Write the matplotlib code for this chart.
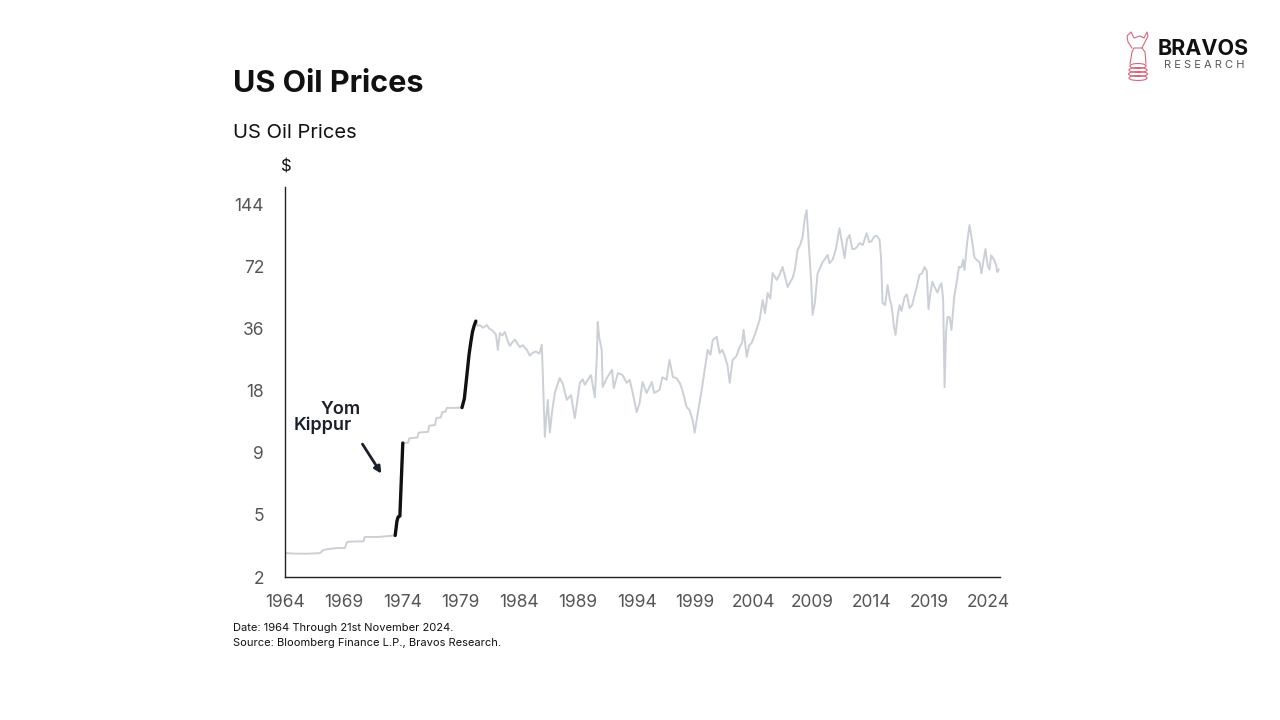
import matplotlib.pyplot as plt
from matplotlib.patches import Ellipse
import numpy as np

plt.rcParams['font.family'] = ['Inter', 'DejaVu Sans']

# monthly-ish WTI prices (decimal year, $)
years = [1964.0, 1965.0, 1966.0, 1967.0, 1967.2, 1967.3, 1967.6, 1968.5, 1969.1, 1969.3,
         1970.0, 1970.7, 1970.8, 1972.0, 1973.0, 1973.4,
         1973.55, 1973.65, 1973.8, 1974.05,
         1974.5, 1974.6, 1975.3, 1975.4, 1976.2, 1976.3, 1976.8, 1976.9, 1977.3, 1977.4, 1977.7, 1977.8, 1978.5, 1979.1,
         1979.3, 1979.5, 1979.7, 1979.85, 1980.0, 1980.15, 1980.28,
         1980.45, 1980.62, 1980.9, 1981.22, 1981.45, 1981.65, 1982.0, 1982.16, 1982.33, 1982.55, 1982.76,
         1983.0, 1983.18, 1983.4, 1983.61, 1984.03, 1984.3, 1984.63, 1984.89, 1985.1, 1985.4, 1985.7, 1985.91,
         1986.17, 1986.3, 1986.42, 1986.59, 1986.8, 1987.02, 1987.2, 1987.44, 1987.7, 1988.04, 1988.4, 1988.72,
         1988.9, 1989.15, 1989.4, 1989.58, 1989.83, 1990.1, 1990.43, 1990.6, 1990.68, 1990.8, 1991.02, 1991.1,
         1991.45, 1991.9, 1992.05, 1992.4, 1992.8, 1993.15, 1993.4, 1993.65, 1994.0, 1994.25, 1994.5, 1994.85,
         1995.3, 1995.5, 1995.95, 1996.2, 1996.55, 1996.8, 1997.1, 1997.4, 1997.67, 1997.9, 1998.27, 1998.5,
         1998.78, 1998.95, 1999.21, 1999.55, 1999.81, 2000.06, 2000.3, 2000.49, 2000.83, 2001.08, 2001.3,
         2001.51, 2001.75, 2001.94, 2002.19, 2002.5, 2002.79, 2003.0, 2003.13, 2003.39, 2003.6, 2003.81, 2004.1,
         2004.49, 2004.75, 2004.95, 2005.18, 2005.4, 2005.6, 2005.94, 2006.2, 2006.45, 2006.7, 2006.88, 2007.05,
         2007.31, 2007.5, 2007.73, 2007.95, 2008.16, 2008.35, 2008.5, 2008.76, 2008.9, 2009.01, 2009.2, 2009.44,
         2009.6, 2009.86, 2010.1, 2010.29, 2010.45, 2010.72, 2011.0, 2011.31, 2011.5, 2011.74, 2011.95, 2012.17,
         2012.4, 2012.59, 2012.8, 2013.02, 2013.3, 2013.62, 2013.85, 2014.04, 2014.25, 2014.47, 2014.72, 2014.85,
         2014.98, 2015.2, 2015.41, 2015.6, 2015.75, 2015.95, 2016.09, 2016.25, 2016.43, 2016.6, 2016.86, 2017.05,
         2017.28, 2017.5, 2017.88, 2018.13, 2018.35, 2018.56, 2018.75, 2018.9, 2019.05, 2019.24, 2019.45, 2019.67,
         2019.85, 2020.01, 2020.15, 2020.27, 2020.4, 2020.52, 2020.7, 2020.86, 2021.1, 2021.29, 2021.5, 2021.72,
         2021.85, 2021.97, 2022.2, 2022.4, 2022.6, 2022.82, 2023.0, 2023.25, 2023.42, 2023.6, 2023.76, 2023.95,
         2024.1, 2024.25, 2024.36, 2024.5, 2024.65, 2024.78, 2024.89]
prices = [2.94, 2.92, 2.92, 2.94, 3.02, 3.04, 3.07, 3.11, 3.11, 3.33,
          3.35, 3.35, 3.52, 3.52, 3.56, 3.58,
          4.2, 4.4, 4.45, 10.06,
          10.1, 10.6, 10.7, 11.3, 11.4, 12.2, 12.3, 13.3, 13.4, 14.2, 14.3, 14.9, 14.9, 14.95,
          16.5, 21.0, 27.0, 31.0, 35.0, 37.5, 39.3,
          37.2, 37.6, 36.5, 37.6, 36.0, 35.6, 33.8, 28.5, 34.4, 33.5, 34.8,
          31.5, 29.8, 31.0, 32.0, 29.4, 30.0, 28.5, 26.7, 27.5, 28.0, 27.3, 30.2,
          10.8, 13.5, 16.3, 11.3, 14.5, 17.6, 19.0, 20.8, 19.5, 16.3, 17.2, 13.3,
          15.5, 19.7, 20.5, 19.3, 20.4, 21.5, 16.8, 26.0, 38.9, 33.0, 28.5, 18.8,
          20.8, 22.8, 18.6, 22.0, 21.5, 19.7, 20.4, 17.8, 14.2, 15.7, 19.9, 17.6,
          19.9, 17.6, 18.2, 21.0, 20.4, 25.5, 21.0, 20.8, 19.7, 18.2, 15.0, 14.6,
          13.0, 11.3, 14.0, 18.2, 22.8, 28.5, 27.0, 31.8, 33.0, 27.5, 28.5,
          26.7, 24.0, 19.7, 25.5, 26.5, 29.4, 31.0, 35.6, 26.3, 30.0, 30.8, 34.0,
          39.8, 49.8, 43.0, 53.9, 50.5, 67.3, 62.3, 66.0, 72.0, 63.0, 57.5, 60.0,
          63.7, 70.0, 87.0, 92.0, 100.7, 125.0, 136.0, 80.5, 60.0, 42.1, 48.0, 67.0,
          70.0, 76.0, 79.0, 82.4, 75.0, 78.0, 88.0, 111.0, 96.0, 79.5, 98.0, 103.0,
          88.0, 88.0, 90.0, 94.0, 92.0, 105.0, 95.0, 96.0, 101.0, 102.0, 98.0, 80.0,
          48.1, 47.0, 58.9, 50.0, 46.8, 37.0, 33.7, 41.0, 47.0, 44.0, 51.5, 53.0,
          45.5, 47.0, 57.0, 65.9, 67.0, 72.0, 69.0, 45.0, 53.0, 61.0, 57.0, 54.0,
          58.0, 60.0, 50.0, 18.8, 35.0, 41.2, 41.0, 35.6, 52.0, 60.0, 72.0, 72.0,
          78.0, 69.6, 95.0, 115.0, 98.0, 80.0, 78.0, 76.0, 67.0, 78.0, 88.0, 73.0,
          70.0, 82.0, 80.0, 78.0, 74.0, 68.0, 70.0]

highlights = [(1973.4, 1974.05), (1979.1, 1980.28)]
tick_vals = [2.25, 4.5, 9, 18, 36, 72, 144]
tick_labels = ['2', '5', '9', '18', '36', '72', '144']
year_ticks = list(range(1964, 2025, 5))

years = np.array(years)
prices = np.array(prices)

fig = plt.figure(figsize=(12.8, 7.2), dpi=100)
ax = fig.add_axes([285/1280, 1 - 577/720, 715/1280, 390/720])

ax.plot(years, prices, color='#cbcfd6', lw=1.4, solid_joinstyle='round')
for a, b in highlights:
    m = (years >= a) & (years <= b)
    ax.plot(years[m], prices[m], color='#111111', lw=2.4, solid_capstyle='round')

ax.set_yscale('log')
ax.set_ylim(2.25, 176)
ax.set_xlim(1964, 2025)
ax.set_yticks(tick_vals)
ax.set_yticklabels(tick_labels)
ax.minorticks_off()
ax.set_xticks(year_ticks)
ax.set_xticklabels([str(y) for y in year_ticks])
ax.tick_params(length=0, labelsize=12.5, labelcolor='#555555')
ax.tick_params(axis='y', pad=15)
ax.tick_params(axis='x', pad=12)
for s in ['top', 'right']:
    ax.spines[s].set_visible(False)
for s in ['left', 'bottom']:
    ax.spines[s].set_color('#222222')
    ax.spines[s].set_linewidth(1.0)

# annotation
ax.text(1968.77, 14.7, 'Yom', ha='center', va='center', fontsize=13,
        fontweight='semibold', color='#1a1f2b')
ax.text(1967.24, 12.3, 'Kippur', ha='center', va='center', fontsize=13,
        fontweight='semibold', color='#1a1f2b')
ax.annotate('', xy=(1972.35, 6.96), xytext=(1970.48, 10.2),
            arrowprops=dict(arrowstyle='-|>', color='#1a1f2b', lw=2.0, mutation_scale=10))

fig.text(233/1280, 1 - 84/720, 'US Oil Prices', fontsize=22, fontweight='bold',
         va='center', ha='left', color='#111111')
fig.text(233/1280, 1 - 133/720, 'US Oil Prices', fontsize=14.5, va='center', ha='left',
         color='#111111')
fig.text(286/1280, 1 - 167/720, '$', fontsize=12, va='center', ha='center', color='#111111')
fig.text(233/1280, 1 - 628/720, 'Date: 1964 Through 21st November 2024.', fontsize=8,
         va='center', ha='left', color='#111111')
fig.text(233/1280, 1 - 643/720, 'Source: Bloomberg Finance L.P., Bravos Research.', fontsize=8,
         va='center', ha='left', color='#111111')

# logo
fig.text(1203/1280, 1 - 49/720, 'BRAVOS', fontsize=15.5, fontweight='bold',
         va='center', ha='center', color='#111111')
fig.text(1204/1280, 1 - 65/720, 'R E S E A R C H', fontsize=8,
         va='center', ha='center', color='#555555')
lax = fig.add_axes([1118/1280, 1 - 82/720, 40/1280, 56/720])
lax.set_xlim(0, 40)
lax.set_ylim(0, 56)
lax.axis('off')
pink = '#d9667a'
for yy, w in [(4, 18), (8, 19), (12, 18), (16, 16)]:
    lax.add_patch(Ellipse((20, yy), w, 5, fill=False, ec=pink, lw=0.8))
lax.plot([12, 14, 16, 24, 27, 28], [18, 30, 34, 34, 30, 18], color=pink, lw=0.8)
lax.plot([14, 10, 9, 13, 16, 22, 26, 29, 30, 27, 24], [34, 40, 46, 50, 44, 46, 44, 50, 46, 40, 34],
         color=pink, lw=0.8)

fig.savefig('out.png', dpi=100, facecolor='white')
